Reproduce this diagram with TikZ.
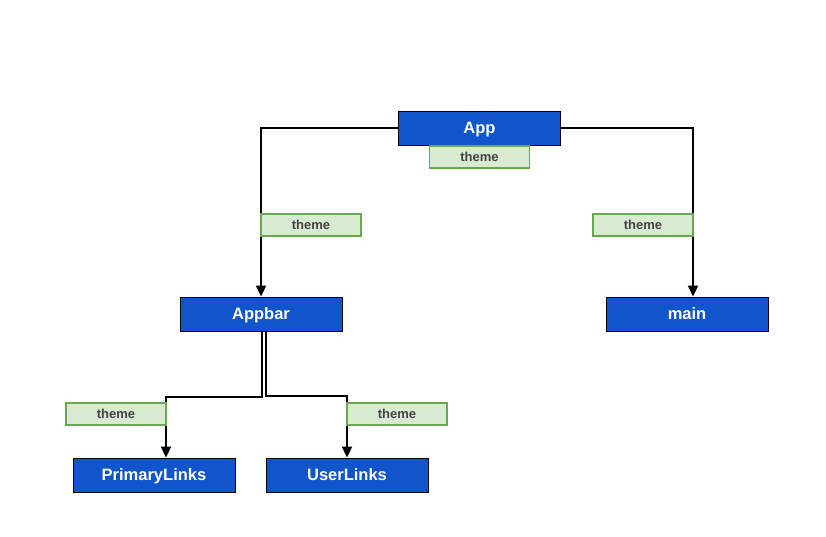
\documentclass[tikz,border=0pt]{standalone}
\usepackage{fontspec}
\setmainfont{Liberation Sans}
\usepackage{tikz}
\usetikzlibrary{arrows.meta,positioning}

\definecolor{compblue}{HTML}{1155CC}
\definecolor{propfill}{HTML}{D9EAD3}
\definecolor{propline}{HTML}{6AA84F}
\definecolor{proptext}{HTML}{434343}

\begin{document}
\begin{tikzpicture}[x=1pt,y=-1pt]
  \tikzset{
    comp/.style={draw=black, fill=compblue, line width=0.9pt, minimum width=162pt, minimum height=34pt, text=white, font=\fontsize{16.5}{18}\selectfont\bfseries, inner sep=0pt, text height=11.9pt, text depth=0pt},
    prop/.style={draw=propline, fill=propfill, line width=1.4pt, minimum width=100pt, minimum height=22pt, text=proptext, font=\fontsize{13}{15}\selectfont\bfseries, inner sep=0pt, text height=9.4pt, text depth=0pt},
    link/.style={-{Triangle[length=11pt, width=10pt]}, black, line width=2pt},
    fork/.style={black, line width=2pt}
  }
  \useasboundingbox (0,0) rectangle (826,537);

  % Components
  \node[comp] (app) at (479.5,128) {App};
  \node[comp] (appbar) at (261,314) {Appbar};
  \node[comp] (main) at (687,314) {main};
  \node[comp] (primary) at (154,475) {PrimaryLinks};
  \node[comp] (user) at (347,475) {UserLinks};

  % Connectors
  \draw[link] (app.west) -| (appbar.north);
  \draw[link] (app.east) -| ([xshift=6pt]main.north);
  \draw[link] ([xshift=0.7pt]appbar.south) |- ++(0,66) -| ([xshift=12pt]primary.north);
  \draw[link] ([xshift=4.7pt]appbar.south) |- ++(0,65) -| (user.north);

  % Props passed down
  \node[prop] (apptheme) at (479.5,157) {theme};
  \node[prop] (bartheme) at (311,225) {theme};
  \node[prop] (maintheme) at (643,225) {theme};
  \node[prop] (primtheme) at (116,414) {theme};
  \node[prop] (usertheme) at (397,414) {theme};

\end{tikzpicture}
\end{document}
